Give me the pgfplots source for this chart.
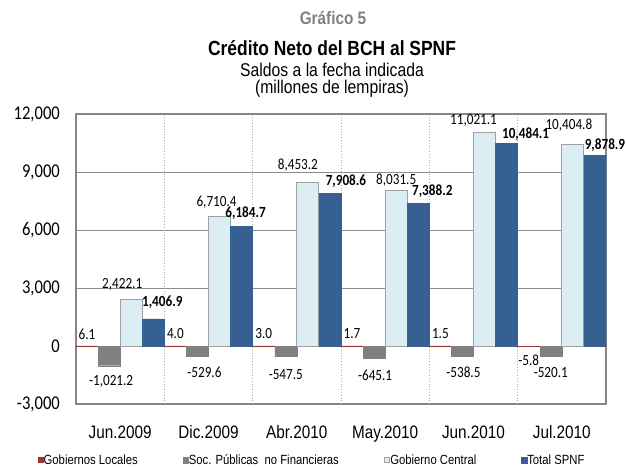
\documentclass[border=0pt]{standalone}
\usepackage{pgfplots}
\usepackage{pgfplotstable}
\pgfplotsset{compat=1.18}
\usepackage{fontspec}
\setmainfont{Liberation Sans}[FakeStretch=0.85]
\newfontfamily\calib{Carlito}[FakeStretch=0.85]

\definecolor{cRed}{RGB}{149,55,53}
\definecolor{cGray}{RGB}{128,128,128}
\definecolor{cLight}{RGB}{219,238,244}
\definecolor{cLightEdge}{RGB}{160,160,160}
\definecolor{cDark}{RGB}{54,96,146}
\definecolor{cFrame}{RGB}{134,134,134}
\definecolor{cGrid}{RGB}{140,140,140}
\definecolor{cTitleGray}{RGB}{128,128,128}

\pgfplotstableread{
x y lab dx dy
0 6.1 6.1 0 12
1 4.0 4.0 0 12
2 3.0 3.0 0 12
3 1.7 1.7 0 12
4 1.5 1.5 0 12
5 -5.8 -5.8 0 -14
}\locales

\pgfplotstableread{
x y lab dx dy
0 -1021.2 -1,021.2 2 -16
1 -529.6 -529.6 7 -16
2 -547.5 -547.5 0 -18
3 -645.1 -645.1 1 -17
4 -538.5 -538.5 1 -16
5 -520.1 -520.1 0 -16
}\socpub

\pgfplotstableread{
x y lab dx dy
0 2422.1 2,422.1 -9 15
1 6710.4 6,710.4 -3 14
2 8453.2 8,453.2 -10 17
3 8031.5 8,031.5 0 11
4 11021.1 11,021.1 -11 12
5 10404.8 10,404.8 -4 20
}\central

\pgfplotstableread{
x y lab dx dy
0 1406.9 1,406.9 9 17
1 6184.7 6,184.7 4 13
2 7908.6 7,908.6 16 12
3 7388.2 7,388.2 14 12
4 10484.1 10,484.1 19 9
5 9878.9 9,878.9 10 10
}\total

\pgfplotsset{
  lbl/.style={
    point meta=explicit symbolic,
    nodes near coords,
    nodes near coords align={center},
    visualization depends on={\thisrow{dx}\as\dx},
    visualization depends on={\thisrow{dy}\as\dy},
    every node near coord/.append style={anchor=center, inner sep=0pt,
      xshift=\dx pt, yshift=\dy pt, text=black,
      font=\calib\fontsize{15.5}{17}\selectfont},
  },
}

\begin{document}
\begin{tikzpicture}
\path[use as bounding box] (-76pt,-62pt) rectangle (550pt,404pt);
\begin{axis}[
  at={(0,0)}, anchor=south west,
  scale only axis, width=530pt, height=290pt,
  xmin=-0.5, xmax=5.5, ymin=-3000, ymax=12000,
  ybar=0pt, bar width=0.25,
  xtick={0,1,2,3,4,5},
  xticklabels={Jun.2009,Dic.2009,Abr.2010,May.2010,Jun.2010,Jul.2010},
  ytick={-3000,0,3000,6000,9000,12000},
  yticklabels={{-3,000},{0},{3,000},{6,000},{9,000},{12,000}},
  scaled y ticks=false,
  major tick length=0pt,
  ymajorgrids,
  major grid style={cGrid, line width=0.8pt},
  extra x ticks={0.5,1.5,2.5,3.5,4.5},
  extra x tick labels={},
  extra x tick style={grid=major, major grid style={cGrid!70, dotted, line width=0.8pt}},
  axis line style={cFrame, line width=1.3pt},
  xticklabel style={anchor=base, yshift=-34pt, font=\fontsize{18}{20}\selectfont},
  yticklabel style={anchor=east, inner sep=0pt, xshift=-16pt, font=\calib\fontsize{19.5}{22}\selectfont},
  legend style={at={(0.4453,-0.193)}, anchor=center, draw=none, fill=none,
    font=\fontsize{13.3}{15}\selectfont, legend columns=4,
    /tikz/every even column/.append style={column sep=43pt},
    /tikz/every odd column/.append style={column sep=-2pt}},
  legend cell align=left,
  legend image code/.code={\draw[#1] (0pt,-2.75pt) rectangle (5.5pt,2.75pt);},
]
\addplot[lbl, fill=cRed, draw=cRed, line width=0.6pt] table[x=x,y=y,meta=lab] {\locales};
\addlegendentry{Gobiernos Locales}
\addplot[lbl, fill=cGray, draw=cGray, line width=0.4pt] table[x=x,y=y,meta=lab] {\socpub};
\addlegendentry{Soc. P\'ublicas\ \ no Financieras}
\addplot[lbl, fill=cLight, draw=cLightEdge, line width=1pt] table[x=x,y=y,meta=lab] {\central};
\addlegendentry{Gobierno Central}
\addplot[lbl, fill=cDark, draw=cDark, line width=0.4pt,
  every node near coord/.append style={font=\calib\bfseries\fontsize{15.5}{17}\selectfont}] table[x=x,y=y,meta=lab] {\total};
\addlegendentry{Total SPNF}
\end{axis}
\node[font=\bfseries\fontsize{18}{20}\selectfont, text=cTitleGray] at (257pt,386pt) {Gráfico 5};
\node[font=\bfseries\fontsize{20.5}{23}\selectfont] at (256pt,356pt) {Crédito Neto del BCH al SPNF};
\node[font=\fontsize{18.5}{21}\selectfont] at (256pt,334pt) {Saldos a la fecha indicada};
\node[font=\fontsize{18.5}{21}\selectfont] at (256pt,315pt) {(millones de lempiras)};
\end{tikzpicture}
\end{document}
